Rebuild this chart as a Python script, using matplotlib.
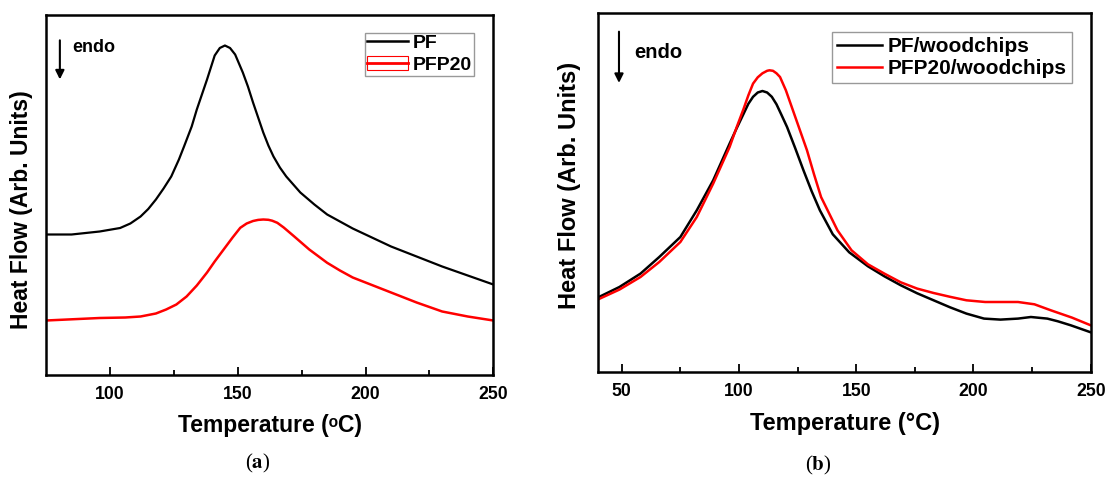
import matplotlib
matplotlib.use("Agg")
import matplotlib.pyplot as plt
from matplotlib.lines import Line2D
from matplotlib.patches import Patch

plt.rcParams['font.family'] = ['Liberation Sans', 'DejaVu Sans']
plt.rcParams['font.weight'] = 'bold'
plt.rcParams['mathtext.fontset'] = 'stix'

# panel (a)
temp_pf = [75, 85, 96, 104, 108, 112, 115, 118, 121, 124, 127, 129, 132, 134, 136, 138, 141,
           143, 145, 147, 149, 152, 154, 156, 158, 160, 162, 164, 166.5, 169, 174.5, 180, 185,
           190, 195, 200, 210, 220, 230, 240, 250]
pf = [140, 140, 143, 146.5, 151, 158, 165.5, 175, 186, 198, 215, 228, 248, 265, 280, 295, 319,
      326.5, 329, 326.5, 320, 302, 288, 272, 257, 242, 229, 218, 207, 198, 182, 170, 160,
      153, 146, 140, 128, 118, 108, 99, 90]
temp_pfp20 = [75, 96, 106, 112, 118, 122, 126, 130, 134, 138, 141, 144.5, 148, 151, 153.5, 156,
              158, 160, 162, 163.5, 165.5, 168, 172, 178, 185, 190, 195, 200, 205, 210, 220,
              230, 240, 250]
pfp20 = [54, 56.5, 57, 58, 61, 65, 70, 78, 89, 102, 113, 125, 137, 146.7, 151, 153.5,
         154.6, 155, 154.7, 153.8, 151.7, 147, 138.3, 125, 111.7, 104, 97, 92, 87, 82, 72,
         63, 58, 54]

# panel (b)
temp_pfw = [40, 49, 58, 66, 75, 82, 89, 96, 99, 102, 104, 106, 108, 110, 112, 114, 116,
            118, 120.5, 124, 127.5, 131, 134.5, 140, 147, 155, 162, 169, 176, 183, 190, 197,
            204.5, 211.5, 219, 224.5, 231.5, 236, 241.5, 250]
pf_wood = [75, 85.3, 98.7, 115.3, 135.3, 162, 192, 228.7, 244, 258.7, 268.5, 275.5, 279.8,
           281.3, 279.8, 275.5, 268, 258, 245.3, 224, 202, 181, 162, 138, 120, 106, 96, 87,
           79, 72, 65, 58.7, 53.7, 52.7, 53.7, 55.3, 53.7, 51, 47, 40]
temp_pfpw = [40, 49, 58, 66, 75, 82, 89, 96, 99, 102, 104, 106, 108, 110, 112, 113, 114.5, 116,
             117.5, 120, 123, 126, 129, 132, 135, 142, 148, 155, 162, 169, 176, 183, 190, 197,
             205, 212, 219, 226, 233, 242, 250]
pfp20_wood = [73, 82.7, 95.3, 110.3, 130.3, 155.3, 188.7, 225.3, 245, 263.7, 277, 288.7,
              295, 299, 301.5, 302, 301.5, 299, 295.3, 282, 262, 242, 222, 198, 175.3, 142,
              122, 108, 98.7, 90, 83.7, 79.3, 75.5, 72, 70.3, 70.3, 70.3, 68, 62, 54.7, 47]

fig = plt.figure(figsize=(11.08, 4.79), dpi=100)
ax1 = fig.add_axes([46 / 1108, 1 - 374.5 / 479, 447.3 / 1108, 360 / 479])
ax2 = fig.add_axes([598.3 / 1108, 1 - 372.3 / 479, 492.4 / 1108, 359.6 / 479])


def style(ax, xlim, ylim, major, minor, xlab, size):
    ax.set_xlim(*xlim)
    ax.set_ylim(*ylim)
    ax.set_xticks(major)
    ax.set_xticks(minor, minor=True)
    ax.set_yticks([])
    ax.tick_params(axis='x', which='both', direction='in', width=1.3, labelsize=12.7, pad=8)
    ax.tick_params(axis='x', which='major', length=6)
    ax.tick_params(axis='x', which='minor', length=3.5)
    for s in ax.spines.values():
        s.set_linewidth(1.8)
    ax.set_xlabel(xlab, fontsize=size, fontweight='bold', labelpad=8)
    ax.set_ylabel('Heat Flow (Arb. Units)', fontsize=size, fontweight='bold', labelpad=6)


ax1.plot(temp_pf, pf, color='black', lw=1.6)
ax1.plot(temp_pfp20, pfp20, color='red', lw=1.8)
style(ax1, (75, 250), (0, 360), [100, 150, 200, 250], [125, 175, 225],
      'Temperature (\u1d52C)', 16.5)
ax1.yaxis.set_label_coords(-0.03, 0.458)
h_pf = Line2D([], [], color='black', lw=1.8)
h_pfp = (Patch(facecolor='none', edgecolor='red', lw=0.8), Line2D([], [], color='red', lw=2))
ax1.legend([h_pf, h_pfp], ['PF', 'PFP20'], loc='upper right', bbox_to_anchor=(0.957, 0.95),
           fontsize=14, frameon=True, fancybox=False, edgecolor='gray', handlelength=2.1,
           handletextpad=0.25, borderpad=0.1, labelspacing=0.2, borderaxespad=0)
ax1.annotate('', xy=(0.031, 0.812), xytext=(0.031, 0.936), xycoords='axes fraction',
             arrowprops=dict(arrowstyle='-|>', color='black', lw=1.5, mutation_scale=13))
ax1.text(0.058, 0.908, 'endo', transform=ax1.transAxes, fontsize=13, va='center')

ax2.plot(temp_pfw, pf_wood, color='black', lw=1.8, label='PF/woodchips')
ax2.plot(temp_pfpw, pfp20_wood, color='red', lw=1.8, label='PFP20/woodchips')
style(ax2, (40, 250), (0, 359.6), [50, 100, 150, 200, 250], [75, 125, 175, 225],
      'Temperature (\u00b0C)', 17)
ax2.yaxis.set_label_coords(-0.036, 0.52)
ax2.legend(loc='upper right', bbox_to_anchor=(0.962, 0.947), fontsize=15, frameon=True,
           fancybox=False, edgecolor='gray', handlelength=2.15, handletextpad=0.27,
           borderpad=0.25, labelspacing=0.15, borderaxespad=0)
ax2.annotate('', xy=(0.042, 0.797), xytext=(0.042, 0.955), xycoords='axes fraction',
             arrowprops=dict(arrowstyle='-|>', color='black', lw=1.5, mutation_scale=13))
ax2.text(0.0725, 0.888, 'endo', transform=ax2.transAxes, fontsize=14.5, va='center')

fig.text(258 / 1108, 1 - 463 / 479, r'($\mathbf{a}$)', family='Liberation Serif',
         fontsize=15, fontweight='normal', ha='center', va='center')
fig.text(818 / 1108, 1 - 465 / 479, r'($\mathbf{b}$)', family='Liberation Serif',
         fontsize=15, fontweight='normal', ha='center', va='center')

fig.savefig('out.png', dpi=100)
